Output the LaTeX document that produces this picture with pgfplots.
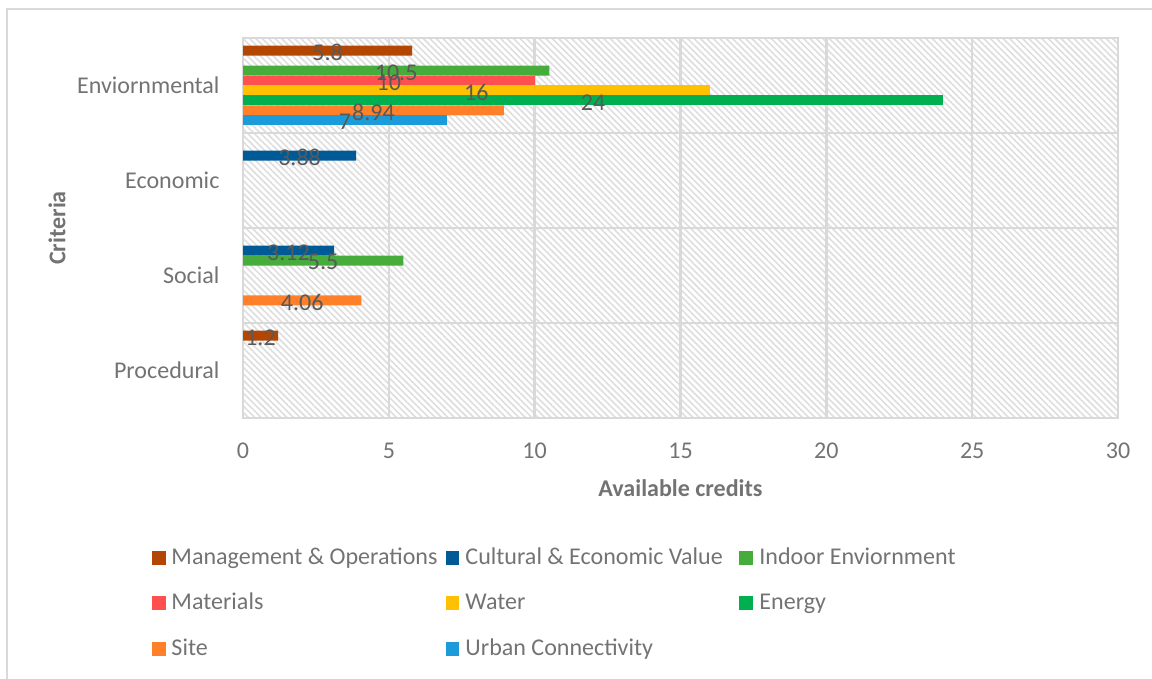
\documentclass[border=0pt]{standalone}
\usepackage{fontspec}
\setmainfont{Carlito}
\usepackage{pgfplots}
\pgfplotsset{compat=1.18}
\usetikzlibrary{patterns.meta}
\definecolor{cMO}{RGB}{180,70,4}
\definecolor{cCE}{RGB}{0,90,150}
\definecolor{cIE}{RGB}{70,172,60}
\definecolor{cMA}{RGB}{255,80,80}
\definecolor{cWA}{RGB}{255,192,0}
\definecolor{cEN}{RGB}{0,176,80}
\definecolor{cSI}{RGB}{255,128,40}
\definecolor{cUC}{RGB}{27,155,215}
\definecolor{gridc}{RGB}{217,217,217}
\definecolor{hatchc}{RGB}{222,222,222}
\definecolor{tickc}{RGB}{115,115,115}
\definecolor{labc}{RGB}{89,89,89}
\newcommand{\lgb}[1]{\makebox[3.806cm][l]{#1}}
\pgfplotsset{lab/.style={every node near coord/.append style={shift={(axis direction cs:0,#1)}}}}
\begin{document}
\fontsize{9.5}{11.4}\selectfont
\begin{tikzpicture}[x=1cm,y=1cm]
\useasboundingbox (0,0) rectangle (16,9.4167);
\draw[gridc, line width=0.8pt] (0.097,-0.1) -- (0.097,9.2917) -- (16.1,9.2917);
\begin{axis}[
  at={(3.375cm,3.611cm)}, anchor=south west,
  scale only axis, width=12.153cm, height=5.278cm,
  xmin=0, xmax=30, ymin=-0.5, ymax=3.5,
  xtick={0,5,...,30}, ytick={0,1,2,3},
  yticklabels={Procedural,Social,Economic,Enviornmental},
  minor ytick={0.5,1.5,2.5},
  xmajorgrids, yminorgrids,
  major grid style={gridc, line width=1pt},
  minor grid style={gridc, line width=1pt},
  axis line style={gridc, line width=1pt},
  major tick length=0pt, minor tick length=0pt,
  /pgf/number format/assume math mode=true,
  ticklabel style={font=\fontsize{9.5}{11.4}\selectfont, text=tickc},
  xticklabel style={anchor=center, inner sep=0pt, yshift=-0.458cm},
  yticklabel style={anchor=east, inner sep=0pt, xshift=-0.32cm},
  xlabel={\textbf{Available credits}}, ylabel={\textbf{Criteria}},
  xlabel style={at={(axis description cs:0.5,-0.184)}, anchor=center, text=tickc, inner sep=0pt},
  ylabel style={at={(axis description cs:-0.2126,0.5)}, anchor=center, text=tickc, inner sep=0pt},
  axis background/.style={pattern={Lines[angle=-45,distance=1.8pt,line width=0.65pt]}, pattern color=hatchc},
  bar width=0.105,
  point meta=x,
  visualization depends on={x \as \rawx},
  nodes near coords,
  nodes near coords style={font=\fontsize{9.5}{11.4}\selectfont, text=labc, anchor=center, inner sep=0pt,
     shift={(axis direction cs:-\rawx/2,0)}, yshift=-0.025cm},
  legend columns=3,
  legend cell align=left,
  legend image code/.code={\fill[#1] (0cm,-0.097cm) rectangle (0.194cm,0.097cm);},
  legend style={draw=none, fill=none, at={(axis description cs:-0.1051,-0.3395)}, anchor=north west,
     inner sep=0pt, nodes={inner sep=0pt, text=tickc}, font=\fontsize{9.5}{11.4}\selectfont,
     row sep=0.35cm,
     /tikz/every odd column/.append style={column sep=0.083cm},
     /tikz/every even column/.append style={column sep=0pt}},
]
\addplot[xbar, bar shift=0.3675, lab=0.3675, fill=cMO, draw=none] coordinates {(5.8,3) (1.2,0)};
\addlegendentry{\lgb{Management \& Operations}}
\addplot[xbar, bar shift=0.2625, lab=0.2625, fill=cCE, draw=none] coordinates {(3.88,2) (3.12,1)};
\addlegendentry{\lgb{Cultural \& Economic Value}}
\addplot[xbar, bar shift=0.1575, lab=0.1575, fill=cIE, draw=none] coordinates {(10.5,3) (5.5,1)};
\addlegendentry{\lgb{Indoor Enviornment}}
\addplot[xbar, bar shift=0.0525, lab=0.0525, fill=cMA, draw=none] coordinates {(10,3)};
\addlegendentry{\lgb{Materials}}
\addplot[xbar, bar shift=-0.0525, lab=-0.0525, fill=cWA, draw=none] coordinates {(16,3)};
\addlegendentry{\lgb{Water}}
\addplot[xbar, bar shift=-0.1575, lab=-0.1575, fill=cEN, draw=none] coordinates {(24,3)};
\addlegendentry{\lgb{Energy}}
\addplot[xbar, bar shift=-0.2625, lab=-0.2625, fill=cSI, draw=none] coordinates {(8.94,3) (4.06,1)};
\addlegendentry{\lgb{Site}}
\addplot[xbar, bar shift=-0.3675, lab=-0.3675, fill=cUC, draw=none] coordinates {(7,3)};
\addlegendentry{\lgb{Urban Connectivity}}
\end{axis}
\end{tikzpicture}
\end{document}
